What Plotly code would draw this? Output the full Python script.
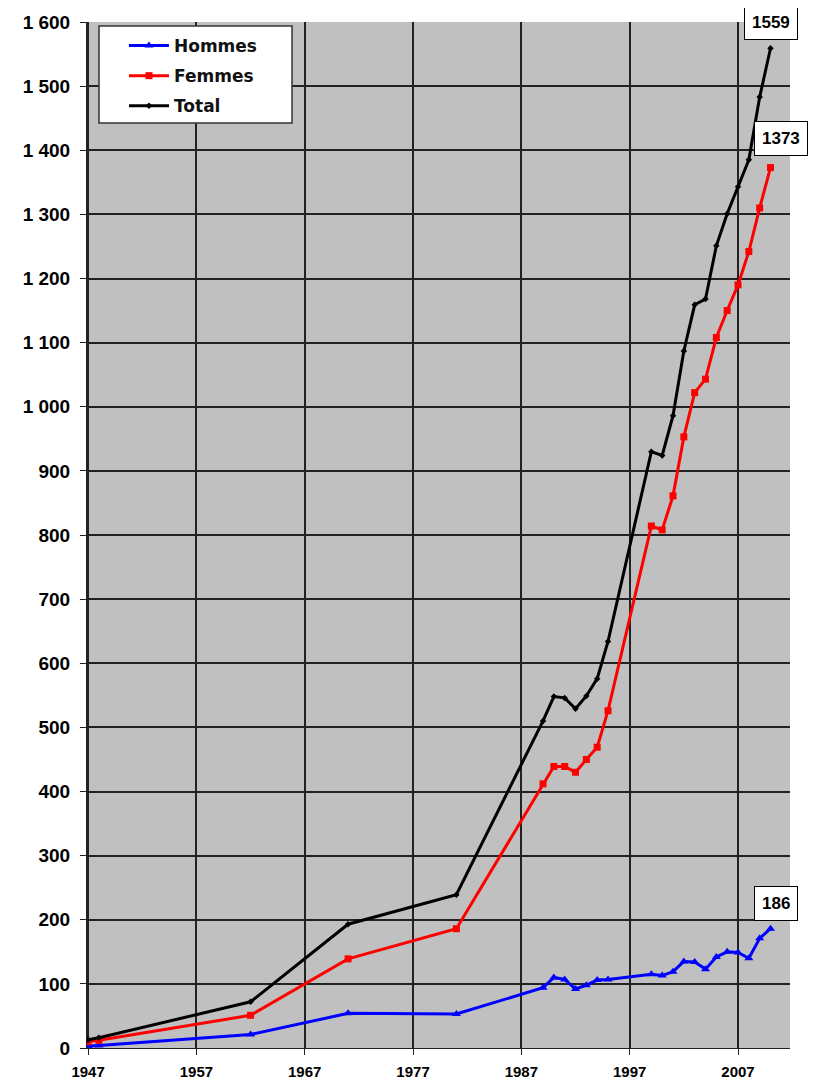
import plotly.graph_objects as go

years = [1947, 1948, 1962, 1971, 1981, 1989, 1990, 1991, 1992, 1993, 1994, 1995,
         1999, 2000, 2001, 2002, 2003, 2004, 2005, 2006, 2007, 2008, 2009, 2010]
hommes = [3, 4, 21, 54, 53, 94, 110, 107, 92, 98, 106, 107,
          115, 113, 119, 135, 134, 123, 142, 150, 149, 140, 171, 186]
femmes = [10, 12, 51, 139, 186, 412, 439, 439, 430, 450, 469, 526,
          814, 808, 861, 953, 1022, 1043, 1108, 1150, 1190, 1242, 1310, 1373]
total = [13, 16, 72, 193, 239, 510, 548, 546, 529, 549, 576, 634,
         930, 924, 986, 1087, 1159, 1168, 1251, 1301, 1343, 1385, 1483, 1559]

x_ticks = [1947, 1957, 1967, 1977, 1987, 1997, 2007]
y_ticks = list(range(0, 1601, 100))
y_labels = ["0", "100", "200", "300", "400", "500", "600", "700", "800", "900",
            "1 000", "1 100", "1 200", "1 300", "1 400", "1 500", "1 600"]

FONT = "Arial, Liberation Sans, sans-serif"
LFONT = "DejaVu Sans, Arial, sans-serif"

fig = go.Figure()
fig.add_trace(go.Scatter(x=years, y=hommes, name="Hommes", mode="lines+markers",
                         line=dict(color="#0000FF", width=3),
                         marker=dict(symbol="triangle-up", size=8, color="#0000FF"),
                         legendgroup="h"))
fig.add_trace(go.Scatter(x=years, y=femmes, name="Femmes", mode="lines+markers",
                         line=dict(color="#FF0000", width=3),
                         marker=dict(symbol="square", size=7, color="#FF0000"),
                         legendgroup="f"))
fig.add_trace(go.Scatter(x=years, y=total, name="Total", mode="lines+markers",
                         line=dict(color="#000000", width=3),
                         marker=dict(symbol="diamond", size=5, color="#000000"),
                         legendgroup="t"))

labels = [(years[-1], total[-1], 0, 26), (years[-1], femmes[-1], 10, 29), (years[-1], hommes[-1], 5, 25)]
for xv, yv, xs, ys in labels:
    fig.add_annotation(x=xv, y=yv, text=str(yv), showarrow=False, xshift=xs, yshift=ys,
                       font=dict(family=FONT, size=17, color="black", weight="bold"),
                       bgcolor="white", bordercolor="black", borderwidth=1, borderpad=7)

# page has an 8px body margin; lay out in page coordinates
OFF = 8
W, H = 821 - 2 * OFF, 1087 - 2 * OFF
L, T = 87 - OFF, 22 - OFF
# plot area in page coords: x 87..790, y 22..1048
pw = 790 - 87
ph = 1048 - 22
R = W - L - pw
B = H - T - ph


def px(x):
    return (x - 87) / pw


def py(y):
    return (1048 - y) / ph


fig.add_shape(type="rect", xref="paper", yref="paper",
              x0=px(99), x1=px(292), y0=py(123), y1=py(26),
              fillcolor="white", line=dict(color="#333333", width=1.5), layer="above")

fig.update_layout(
    width=W, height=H,
    margin=dict(l=L, r=R, t=T, b=B),
    paper_bgcolor="white", plot_bgcolor="#C0C0C0",
    font=dict(family=FONT, color="black", weight="bold"),
    legend=dict(x=px(124), y=py(28), xanchor="left", yanchor="top",
                bgcolor="rgba(0,0,0,0)", borderwidth=0,
                font=dict(family=LFONT, size=17, color="#111111", weight="bold"),
                traceorder="grouped", tracegroupgap=5, itemwidth=40),
    showlegend=True,
)
fig.update_xaxes(range=[1946.9, 2011.8], tickvals=x_ticks, ticktext=[str(v) for v in x_ticks],
                 showgrid=True, gridcolor="#222222", gridwidth=1.5,
                 ticks="outside", ticklen=6, tickcolor="#222222",
                 showline=True, linecolor="#222222", linewidth=1,
                 tickfont=dict(family=FONT, size=15, weight="bold"), zeroline=False,
                 ticklabelstandoff=4, automargin=False)
fig.update_yaxes(range=[0, 1600], tickvals=y_ticks, ticktext=y_labels,
                 showgrid=True, gridcolor="#222222", gridwidth=1.5,
                 ticks="outside", ticklen=6, tickcolor="#222222",
                 showline=True, linecolor="#222222", linewidth=1,
                 tickfont=dict(family=FONT, size=19, weight="bold"), zeroline=False,
                 ticklabelstandoff=6, automargin=False)

fig.write_html("out.html")
